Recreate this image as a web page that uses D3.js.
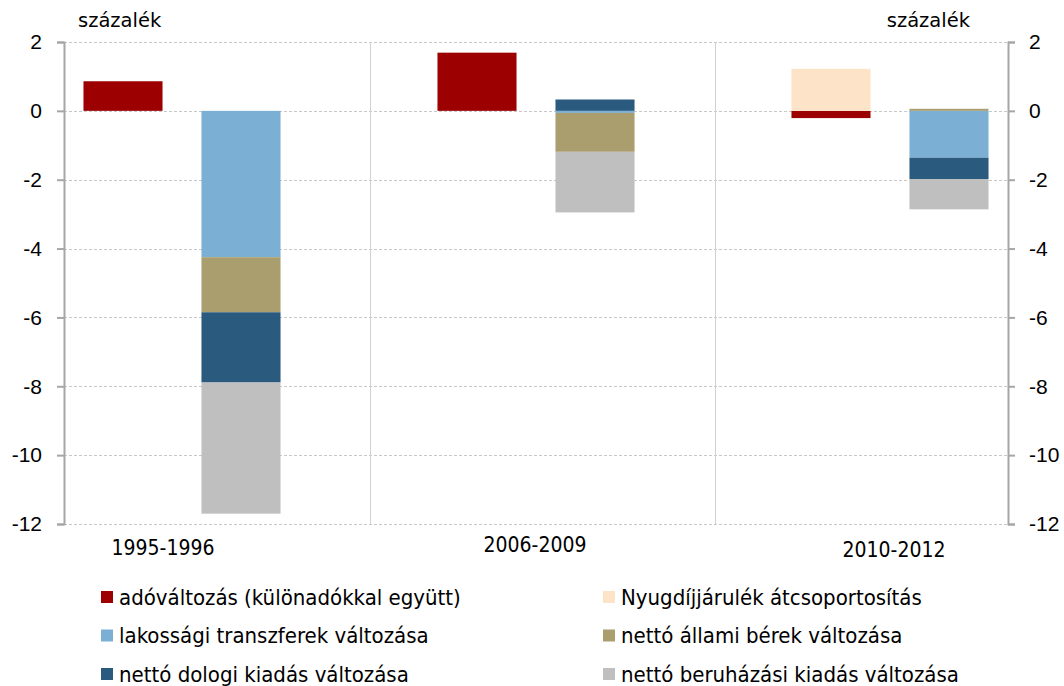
<!DOCTYPE html>
<html>
<head>
<meta charset="utf-8">
<script src="https://cdn.jsdelivr.net/npm/d3@7"></script>
<style>
  html, body { margin: 0; padding: 0; background: #fff; overflow: hidden; }
  svg { display: block; }
  text { font-family: "DejaVu Sans", sans-serif; fill: #000; }
</style>
</head>
<body>
<div id="chart"></div>
<script>
// ---- data ----
// 8 column slots: two columns per period, one empty slot between periods
const slots = ["a1", "a2", "gap1", "b1", "b2", "gap2", "c1", "c2"];
const periods = ["1995-1996", "2006-2009", "2010-2012"];
const periodSlots = [["a1", "a2"], ["b1", "b2"], ["c1", "c2"]];
const seriesNames = [
  "adóváltozás (különadókkal együtt)",
  "Nyugdíjjárulék átcsoportosítás",
  "lakossági transzferek változása",
  "nettó állami bérek változása",
  "nettó dologi kiadás változása",
  "nettó beruházási kiadás változása"
];
const seriesColors = ["#9c0000", "#fde3c7", "#7bafd4", "#aa9e6e", "#2a5b7f", "#bfbfbf"];
const adovaltozas  = [0.86, 0, 0, 1.69, 0, 0, -0.21, 0];
const nyugdij      = [0, 0, 0, 0, 0, 0, 1.22, 0];
const transzfer    = [0, -4.25, 0, 0, -0.06, 0, 0, -1.36];
const berek        = [0, -1.6, 0, 0, -1.13, 0, 0, 0.06];
const dologi       = [0, -2.04, 0, 0, 0.33, 0, 0, -0.62];
const beruhazas    = [0, -3.81, 0, 0, -1.76, 0, 0, -0.88];
const yTicks = [2, 0, -2, -4, -6, -8, -10, -12];

// ---- layout (scales work in page coordinates) ----
const width = 1064, height = 686;
const plot = { left: 64, right: 1008, top: 42, bottom: 524 };

const svg = d3.select("#chart").append("svg")
  .attr("width", width).attr("height", height);

const x = d3.scaleBand().domain(slots).range([plot.left, plot.right]).paddingInner(0.33).paddingOuter(0.165);
const y = d3.scaleLinear().domain([-12, 2]).range([plot.bottom, plot.top]);

// table for the stack
const seriesArrays = [adovaltozas, nyugdij, transzfer, berek, dologi, beruhazas];
const table = slots.map((s, i) => {
  const row = { slot: s };
  seriesNames.forEach((n, k) => { row[n] = seriesArrays[k][i]; });
  return row;
});
const stacked = d3.stack().keys(seriesNames).offset(d3.stackOffsetDiverging)(table);

// gridlines
svg.append("g").selectAll("line").data(yTicks).join("line")
  .attr("x1", plot.left).attr("x2", plot.right)
  .attr("y1", d => Math.round(y(d)) + 0.5).attr("y2", d => Math.round(y(d)) + 0.5)
  .attr("stroke", "#c8c8c8").attr("stroke-dasharray", "3,2").attr("stroke-width", 1);

// period separators (in the empty slots)
const sepShift = [11, 2];
svg.append("g").selectAll("line").data(["gap1", "gap2"]).join("line")
  .attr("x1", (d, i) => Math.round(x(d) + x.bandwidth() / 2 + sepShift[i]) + 0.5)
  .attr("x2", (d, i) => Math.round(x(d) + x.bandwidth() / 2 + sepShift[i]) + 0.5)
  .attr("y1", plot.top).attr("y2", plot.bottom)
  .attr("stroke", "#d0d0d0");

// bars
svg.append("g").selectAll("g").data(stacked).join("g")
  .attr("fill", (d, i) => seriesColors[i])
  .selectAll("rect").data(d => d.filter(p => p[1] !== p[0])).join("rect")
  .attr("x", d => x(d.data.slot))
  .attr("width", x.bandwidth())
  .attr("y", d => y(Math.max(d[0], d[1])))
  .attr("height", d => Math.abs(y(d[0]) - y(d[1])));

// axes
const fmt = d => String(d);  // plain hyphen minus, like the original
const leftAxis = d3.axisLeft(y).tickValues(yTicks).tickFormat(fmt).tickSize(7).tickPadding(15);
const rightAxis = d3.axisRight(y).tickValues(yTicks).tickFormat(fmt).tickSize(7).tickPadding(14);
const styleAxis = sel => {
  sel.select(".domain").attr("stroke", "#a6a6a6").attr("stroke-width", 2);
  sel.selectAll(".tick line").attr("stroke", "#a6a6a6").attr("stroke-width", 2);
  sel.selectAll(".tick text").attr("font-size", 21).attr("fill", "#000")
    .style("font-family", "'Liberation Sans', Arial, sans-serif");
};
svg.append("g").attr("transform", `translate(${plot.left},0)`).call(leftAxis).call(styleAxis);
svg.append("g").attr("transform", `translate(${plot.right},0)`).call(rightAxis).call(styleAxis);

// unit labels
svg.append("text").text("százalék").attr("x", 78).attr("y", 27).attr("font-size", 19.5);
svg.append("text").text("százalék").attr("x", 970).attr("y", 27).attr("font-size", 19.5)
  .attr("text-anchor", "end");

// period labels
const labelDy = [31, 28, 33];
const labelDx = [-19, -1, 4];
svg.append("g").selectAll("text").data(periods).join("text")
  .attr("x", (d, i) => (x(periodSlots[i][0]) + x(periodSlots[i][1]) + x.bandwidth()) / 2 + labelDx[i])
  .attr("y", (d, i) => plot.bottom + labelDy[i])
  .attr("text-anchor", "middle")
  .attr("font-size", 21)
  .style("font-family", "'DejaVu Sans Condensed', 'DejaVu Sans', sans-serif")
  .text(d => d);

// legend
const legend = svg.append("g");
const items = legend.selectAll("g").data(seriesNames).join("g")
  .attr("transform", (d, i) => `translate(${i % 2 === 0 ? 101 : 603},${597 + Math.floor(i / 2) * 38.5})`);
items.append("rect").attr("x", 0).attr("y", -6).attr("width", 12).attr("height", 12)
  .attr("fill", (d, i) => seriesColors[i]);
items.append("text").attr("x", 18).attr("y", 0).attr("dy", "0.35em")
  .attr("font-size", 22)
  .style("font-family", "'DejaVu Sans Condensed', 'DejaVu Sans', sans-serif")
  .text(d => d);
</script>
</body>
</html>
